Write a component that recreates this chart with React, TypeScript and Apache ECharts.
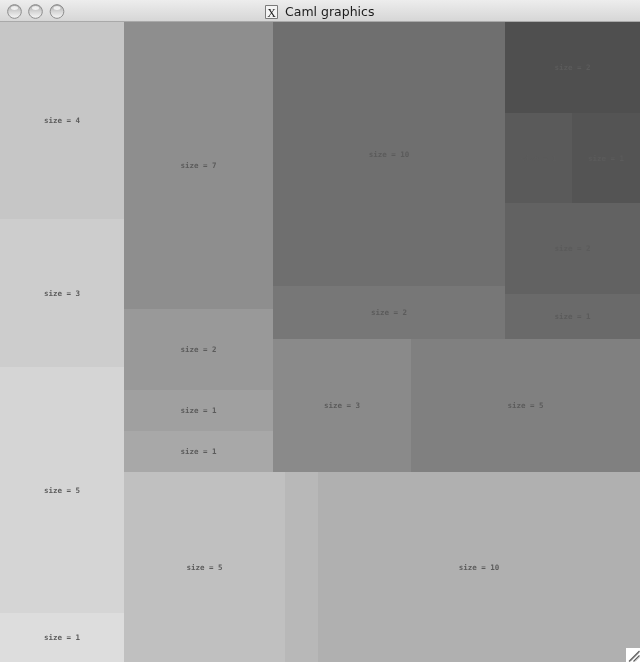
import React, { useEffect, useRef } from "react";
import * as echarts from "echarts";

// ---- data: nested slice-and-dice tree of sizes ----
const groupA = [4, 3, 5, 1];
const groupE = [7, 2, 1, 1];
const groupI = [10, 2];
const groupK = [1, 1];
const groupJ = [2, groupK, 2, 1];
const groupH = [3, 5];
const groupD = [5, 1, 10];
const groupG = [groupI, groupJ];
const groupF = [groupG, groupH];
const groupC = [groupE, groupF];
const groupB = [groupC, groupD];
const tree = [groupA, groupB];

// leaf colours in depth-first order
const leafColors = [
  "#c6c6c6", "#cdcdcd", "#d5d5d5", "#dddddd",
  "#8e8e8e", "#999999", "#a0a0a0", "#a8a8a8",
  "#6f6f6f", "#777777",
  "#4f4f4f", "#5a5a5a", "#545454", "#626262", "#6a6a6a",
  "#8a8a8a", "#808080",
  "#c0c0c0", "#b8b8b8", "#b0b0b0",
];

const labelPrefix = "size = ";
const windowTitle = "Caml graphics";

type TNode = number | TNode[];

function total(n: TNode): number {
  return typeof n === "number" ? n : n.reduce((s: number, c) => s + total(c), 0);
}

function layout(n: TNode, x0: number, y0: number, x1: number, y1: number, depth: number, out: number[][]) {
  if (typeof n === "number") {
    out.push([x0, y0, x1, y1, n]);
    return;
  }
  const sum = total(n);
  let acc = 0;
  for (const c of n) {
    const t = total(c);
    const a = acc / sum;
    const b = (acc + t) / sum;
    if (depth % 2 === 0) {
      layout(c, x0 + (x1 - x0) * a, y0, x0 + (x1 - x0) * b, y1, depth + 1, out);
    } else {
      layout(c, x0, y0 + (y1 - y0) * a, x1, y0 + (y1 - y0) * b, depth + 1, out);
    }
    acc += t;
  }
}

export default function App() {
  const ref = useRef<HTMLDivElement>(null);

  useEffect(() => {
    document.body.style.margin = "0";
    if (!ref.current) return;
    const chart = echarts.init(ref.current, undefined, { renderer: "svg" });
    const cells: number[][] = [];
    layout(tree as TNode, 0, 0, 1, 1, 0, cells);

    const btnFill = () =>
      new echarts.graphic.LinearGradient(0, 0, 0, 1, [
        { offset: 0, color: "#a8a8a8" },
        { offset: 0.55, color: "#d9d9d9" },
        { offset: 1, color: "#f6f6f6" },
      ]);
    const buttons = [14.5, 35.5, 57].flatMap((cx) => [
      {
        type: "circle",
        shape: { cx, cy: 11.5, r: 6.8 },
        style: { fill: btnFill(), stroke: "#8a8a8a", lineWidth: 1 },
        z: 10,
      },
      {
        type: "ellipse",
        shape: { cx, cy: 8, rx: 3.6, ry: 2 },
        style: { fill: "rgba(255,255,255,0.75)" },
        z: 11,
      },
    ]);

    const option: any = {
      animation: false,
      tooltip: { show: false },
      grid: { left: 0, right: 0, top: 22, bottom: 0 },
      xAxis: { type: "value", min: 0, max: 1, show: false },
      yAxis: { type: "value", min: 0, max: 1, inverse: true, show: false },
      series: [
        {
          type: "custom",
          silent: true,
          encode: { x: [0, 2], y: [1, 3] },
          data: cells,
          renderItem: (params: any, api: any) => {
            const p0 = api.coord([api.value(0), api.value(1)]);
            const p1 = api.coord([api.value(2), api.value(3)]);
            const x = Math.round(p0[0]);
            const y = Math.round(p0[1]);
            const w = Math.round(p1[0]) - x;
            const h = Math.round(p1[1]) - y;
            const children: any[] = [
              {
                type: "rect",
                shape: { x, y, width: w, height: h },
                style: { fill: leafColors[params.dataIndex] },
              },
            ];
            if (w >= 40) {
              children.push({
                type: "text",
                style: {
                  text: labelPrefix + api.value(4),
                  x: x + w / 2,
                  y: y + h / 2,
                  align: "center",
                  verticalAlign: "middle",
                  fill: "#5b5b5b",
                  font: 'bold 7.5px "DejaVu Sans Mono"',
                },
              });
            }
            return { type: "group", children };
          },
        },
      ],
      graphic: {
        elements: [
          {
            type: "rect",
            shape: { x: 0, y: 0, width: 640, height: 22 },
            style: {
              fill: new echarts.graphic.LinearGradient(0, 0, 0, 1, [
                { offset: 0, color: "#ededed" },
                { offset: 1, color: "#d5d5d5" },
              ]),
            },
            z: 5,
          },
          {
            type: "line",
            shape: { x1: 0, y1: 21.5, x2: 640, y2: 21.5 },
            style: { stroke: "#a9a9a9", lineWidth: 1 },
            z: 6,
          },
          ...buttons,
          {
            type: "rect",
            shape: { x: 265.5, y: 5.5, width: 12, height: 13 },
            style: { fill: "#f4f4f4", stroke: "#7a7a7a", lineWidth: 1 },
            z: 10,
          },
          {
            type: "text",
            style: {
              text: "X",
              x: 271.5,
              y: 12.5,
              align: "center",
              verticalAlign: "middle",
              fill: "#222",
              font: '12px "Liberation Serif"',
            },
            z: 11,
          },
          {
            type: "text",
            style: {
              text: windowTitle,
              x: 285,
              y: 11.5,
              align: "left",
              verticalAlign: "middle",
              fill: "#1c1c1c",
              font: '12.5px "DejaVu Sans"',
            },
            z: 10,
          },
          {
            type: "rect",
            shape: { x: 626, y: 648, width: 14, height: 14 },
            style: { fill: "#ffffff" },
            z: 100,
          },
          {
            type: "line",
            shape: { x1: 629, y1: 661.5, x2: 639.5, y2: 651 },
            style: { stroke: "#5e5e5e", lineWidth: 1.2 },
            z: 101,
          },
          {
            type: "line",
            shape: { x1: 630.5, y1: 661.5, x2: 639.5, y2: 652.5 },
            style: { stroke: "#bdbdbd", lineWidth: 1 },
            z: 101,
          },
          {
            type: "line",
            shape: { x1: 633.5, y1: 661.5, x2: 639.5, y2: 655.5 },
            style: { stroke: "#5e5e5e", lineWidth: 1.2 },
            z: 101,
          },
          {
            type: "line",
            shape: { x1: 635, y1: 661.5, x2: 639.5, y2: 657 },
            style: { stroke: "#bdbdbd", lineWidth: 1 },
            z: 101,
          },
        ],
      },
    };
    chart.setOption(option);
    return () => chart.dispose();
  }, []);

  return (
    <div style={{ position: "fixed", left: 0, top: 0, width: 640, height: 662 }}>
      <div ref={ref} style={{ width: 640, height: 662 }} />
    </div>
  );
}
